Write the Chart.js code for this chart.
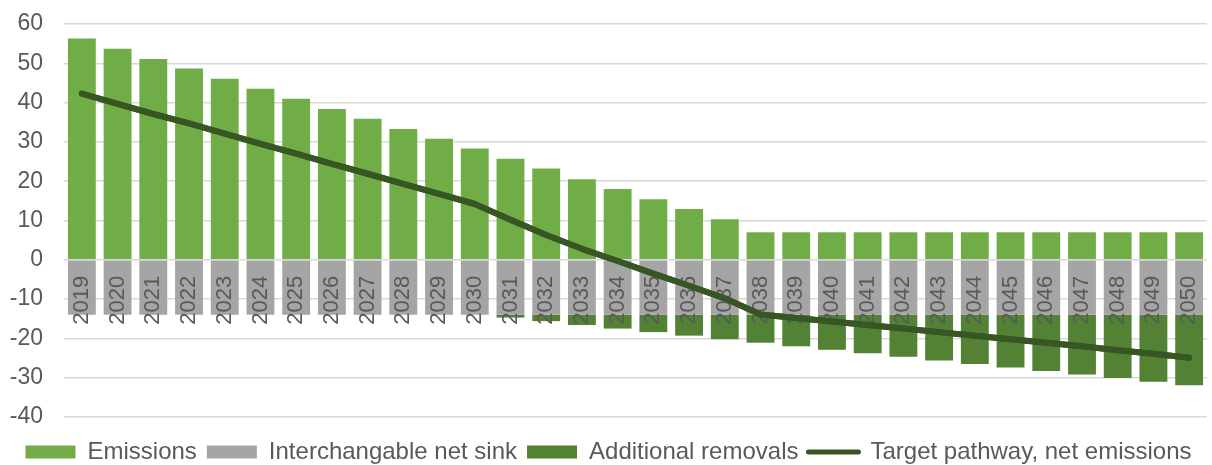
<!DOCTYPE html>
<html>
<head>
<meta charset="utf-8">
<script src="https://cdn.jsdelivr.net/npm/chart.js@4"></script>
<style>
html,body{margin:0;padding:0;background:#fff;}
#wrap{width:1212px;height:465px;position:relative;}
</style>
</head>
<body>
<div id="wrap"><canvas id="c" width="1212" height="465"></canvas></div>
<script>
const years = ['2019','2020','2021','2022','2023','2024','2025','2026','2027','2028','2029','2030','2031','2032','2033','2034','2035','2036','2037','2038','2039','2040','2041','2042','2043','2044','2045','2046','2047','2048','2049','2050'];
const emissions = [56.3,53.7,51.1,48.7,46.1,43.5,41.0,38.4,35.9,33.3,30.8,28.3,25.7,23.2,20.5,18.0,15.4,12.9,10.3,7.0,7.0,7.0,7.0,7.0,7.0,7.0,7.0,7.0,7.0,7.0,7.0,7.0];
const netSink = [-14,-14,-14,-14,-14,-14,-14,-14,-14,-14,-14,-14,-14,-14,-14,-14,-14,-14,-14,-14,-14,-14,-14,-14,-14,-14,-14,-14,-14,-14,-14,-14];
const additionalRemovals = [0,0,0,0,0,0,0,0,0,0,0,0,-0.7,-1.6,-2.6,-3.5,-4.4,-5.3,-6.2,-7.1,-8.0,-8.9,-9.8,-10.7,-11.6,-12.5,-13.4,-14.3,-15.2,-16.1,-17.0,-17.9];
const targetPathway = [42.3,39.7,37.1,34.7,32.1,29.5,27.0,24.4,21.9,19.3,16.8,14.2,10.2,6.3,2.8,-0.3,-3.5,-6.6,-9.8,-13.9,-14.8,-15.7,-16.6,-17.5,-18.4,-19.3,-20.2,-21.1,-22.0,-23.0,-23.9,-24.9];
const yTicks = [-40,-30,-20,-10,0,10,20,30,40,50,60];

const FONT = '"Liberation Sans", Arial, sans-serif';
const TXT = '#595959';

const lineOnTop = {
  id: 'lineOnTop',
  afterDraw(chart) {
    const meta = chart.getDatasetMeta(3);
    if (meta && meta.dataset) {
      const ctx = chart.ctx;
      ctx.save();
      meta.dataset.draw(ctx, chart.chartArea);
      ctx.restore();
    }
  }
};

new Chart(document.getElementById('c'), {
  type: 'bar',
  data: {
    labels: years,
    datasets: [
      {label: 'Emissions', data: emissions, backgroundColor: '#70AD47', stack: 'bars', order: 2},
      {label: 'Interchangable net sink', data: netSink, backgroundColor: '#A5A5A5', stack: 'bars', order: 2},
      {label: 'Additional removals', data: additionalRemovals, backgroundColor: '#548235', stack: 'bars', order: 2},
      {label: 'Target pathway, net emissions', type: 'line', data: targetPathway, borderColor: '#375623', backgroundColor: '#375623', borderWidth: 6, borderCapStyle: 'round', borderJoinStyle: 'round', pointRadius: 0, tension: 0, stack: 'line', order: 1}
    ]
  },
  options: {
    responsive: false,
    animation: false,
    devicePixelRatio: 1,
    layout: {padding: {left: 10, right: 5, top: 24, bottom: -9}},
    datasets: {bar: {barPercentage: 0.78, categoryPercentage: 1.0}},
    scales: {
      x: {
        stacked: true,
        position: {y: 0},
        grid: {display: false, drawTicks: false},
        border: {display: false},
        afterFit(scale) { scale.paddingLeft = 0; scale.paddingRight = 0; scale.paddingTop = 0; scale.paddingBottom = 0; },
        ticks: {
          z: 1,
          autoSkip: false, minRotation: 90, maxRotation: 90, padding: 16,
          color: TXT, font: {family: FONT, size: 22}
        }
      },
      y: {
        stacked: true,
        min: -40, max: 60,
        afterBuildTicks(scale) { scale.ticks = yTicks.map(v => ({value: v})); },
        afterFit(scale) { scale.width = 54; scale.paddingTop = 0; scale.paddingBottom = 0; },
        grid: {color: '#D9D9D9', lineWidth: 1.5, drawTicks: false},
        border: {display: false},
        ticks: {padding: 21, color: TXT, font: {family: FONT, size: 23}}
      }
    },
    plugins: {
      tooltip: {enabled: false},
      legend: {
        position: 'bottom',
        title: {display: true, text: '', font: {size: 1, lineHeight: 1}, padding: {top: 6, bottom: 6}},
        labels: {
          usePointStyle: true,
          pointStyleWidth: 50,
          boxHeight: 13,
          padding: 10,
          color: TXT,
          font: {family: FONT, size: 24},
          generateLabels(chart) {
            return chart.data.datasets.map((ds, i) => ({
              text: ds.label,
              fillStyle: ds.backgroundColor,
              strokeStyle: ds.type === 'line' ? ds.borderColor : ds.backgroundColor,
              lineWidth: ds.type === 'line' ? 5 : 0,
              lineCap: 'round',
              pointStyle: ds.type === 'line' ? 'line' : 'rect',
              fontColor: TXT,
              datasetIndex: i,
              hidden: false
            }));
          }
        }
      }
    }
  },
  plugins: [lineOnTop]
});
</script>
</body>
</html>
